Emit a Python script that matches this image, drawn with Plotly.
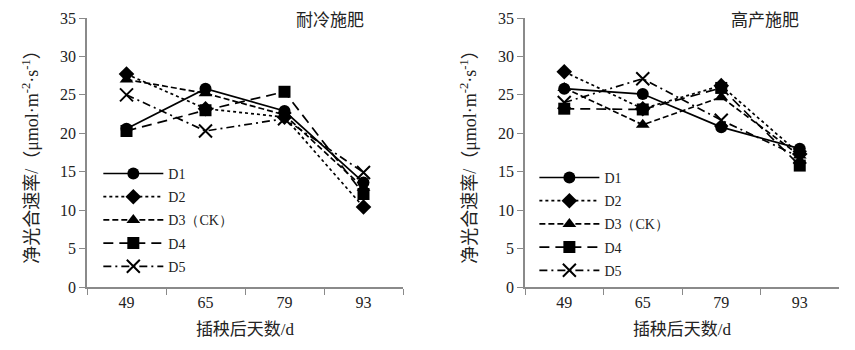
import plotly.graph_objects as go

# Days after transplanting (category axis)
days = ["49", "65", "79", "93"]

# Net photosynthetic rate, cold-tolerant fertilization (耐冷施肥)
cold_d1 = [20.6, 25.8, 22.9, 13.6]
cold_d2 = [27.7, 23.2, 22.1, 10.4]
cold_d3 = [27.0, 25.2, 22.4, 12.9]
cold_d4 = [20.3, 23.0, 25.4, 12.1]
cold_d5 = [25.0, 20.3, 21.9, 14.9]
cold_sig = ["*", "ns", "ns", "ns"]
cold_sig_y = [28.9, 27.1, 26.9, 16.3]

# Net photosynthetic rate, high-yield fertilization (高产施肥)
high_d1 = [25.8, 25.1, 20.8, 18.0]
high_d2 = [28.0, 23.2, 26.2, 17.3]
high_d3 = [25.9, 21.1, 24.7, 17.1]
high_d4 = [23.2, 23.1, 25.9, 15.8]
high_d5 = [24.0, 27.1, 21.7, 16.9]
high_sig = ["ns", "ns", "ns", "ns"]
high_sig_y = [29.4, 28.5, 27.8, 19.5]

series_names = ["D1", "D2", "D3（CK）", "D4", "D5"]
symbols = ["circle", "diamond", "triangle-up", "square", "x-thin-open"]
dashes = ["solid", "dot", "6px,3px", "10px,6px", "8px,4px,2px,4px"]

SERIF = "Liberation Serif, Times New Roman, serif"
MIXED = "Liberation Serif, Noto Sans CJK SC, serif"
CJK = "Noto Sans CJK SC, sans-serif"
TXT = "#222222"
AXC = "#8a8a8a"

fig = go.Figure()

panels = [
    ("x", "y", "legend", [cold_d1, cold_d2, cold_d3, cold_d4, cold_d5], "L"),
    ("x2", "y2", "legend2", [high_d1, high_d2, high_d3, high_d4, high_d5], "R"),
]
for xa, ya, lg, data, tag in panels:
    for i, vals in enumerate(data):
        fig.add_trace(go.Scatter(
            x=days, y=vals, xaxis=xa, yaxis=ya,
            name=series_names[i], legend=lg, legendgroup=f"{tag}{i}",
            mode="lines+markers",
            line=dict(color="black", width=1.7, dash=dashes[i]),
            marker=dict(symbol=symbols[i], size=12 if i != 4 else 13,
                        color="black",
                        line=dict(color="black", width=2 if i == 4 else 0)),
        ))

# Significance labels above each sampling date
for xa, ya, labels, ys in [("x", "y", cold_sig, cold_sig_y), ("x2", "y2", high_sig, high_sig_y)]:
    for d, t, yy in zip(days, labels, ys):
        fig.add_annotation(x=d, y=yy, xref=xa, yref=ya, text=t, showarrow=False,
                           font=dict(family=SERIF, size=14, color="#333"))

xaxis_common = dict(
    type="category", range=[-0.5, 3.5], tickson="boundaries",
    showline=True, linecolor=AXC, linewidth=1.5, ticks="outside", ticklen=6,
    tickcolor=AXC, tickwidth=1.2, showgrid=False, zeroline=False,
    tickfont=dict(family=SERIF, size=16, color=TXT),
    title=dict(text="插秧后天数/d", font=dict(family=MIXED, size=17, color=TXT), standoff=13),
)
yaxis_common = dict(
    range=[0, 35], dtick=5, showline=True, linecolor=AXC, linewidth=1.5,
    ticks="outside", ticklen=6, tickcolor=AXC, tickwidth=1.2,
    showgrid=False, zeroline=False,
    tickfont=dict(family=SERIF, size=16, color=TXT),
    title=dict(text="净光合速率/（μmol·m<sup>-2</sup>·s<sup>-1</sup>）",
               font=dict(family=MIXED, size=18, color=TXT), standoff=17),
)

legend_common = dict(
    bgcolor="rgba(0,0,0,0)", font=dict(family=SERIF, size=14, color=TXT),
    traceorder="grouped", tracegroupgap=2, itemwidth=60,
    xanchor="left", yanchor="top",
)

fig.update_layout(
    width=855, height=350,
    margin=dict(l=0, r=0, t=18, b=63),
    plot_bgcolor="white", paper_bgcolor="white",
    xaxis=dict(domain=[87 / 855, 403 / 855], anchor="y", **xaxis_common),
    yaxis=dict(anchor="x", **yaxis_common),
    xaxis2=dict(domain=[525 / 855, 839 / 855], anchor="y2", **xaxis_common),
    yaxis2=dict(anchor="x2", **yaxis_common),
    legend=dict(x=0.115, y=0.48, **legend_common),
    legend2=dict(x=0.625, y=0.465, **legend_common),
    annotations=list(fig.layout.annotations) + [
        dict(text="耐冷施肥", x=330 / 855, y=1.0, xref="paper", yref="paper",
             xanchor="center", yanchor="middle", showarrow=False,
             font=dict(family=CJK, size=17, color=TXT)),
        dict(text="高产施肥", x=765 / 855, y=1.0, xref="paper", yref="paper",
             xanchor="center", yanchor="middle", showarrow=False,
             font=dict(family=CJK, size=17, color=TXT)),
    ],
)

fig.write_html("out.html")
